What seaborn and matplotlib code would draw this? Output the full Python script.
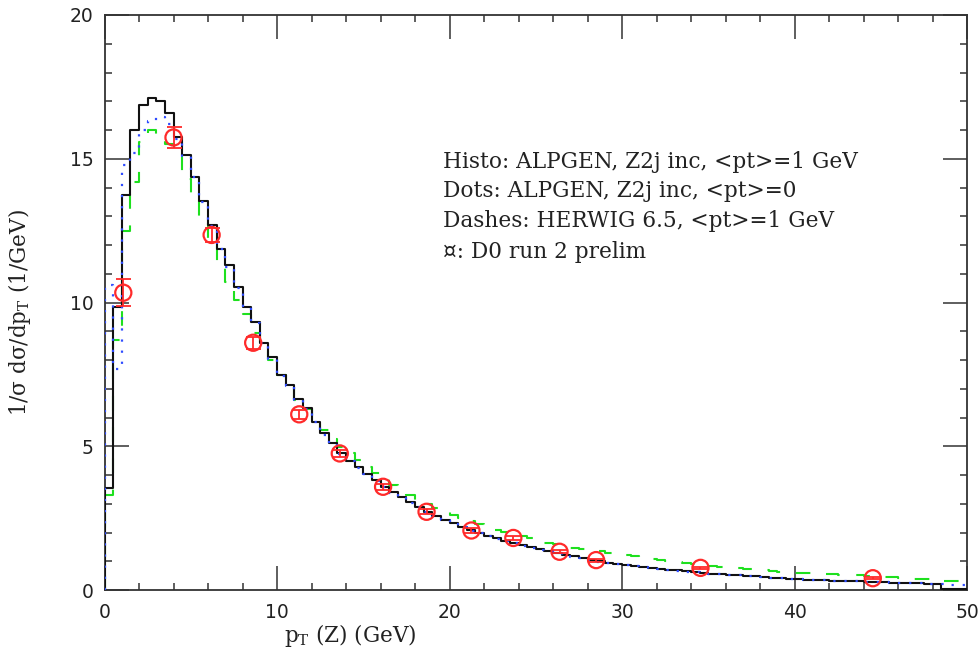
import numpy as np
import pandas as pd
import matplotlib
matplotlib.use("Agg")
import matplotlib.pyplot as plt
import seaborn as sns
from matplotlib.ticker import MultipleLocator

# ---------------- data ----------------
bin_width = 0.5  # GeV, histogram bins from 0 to 50

# Histo: ALPGEN, Z2j inc, <pt>=1 GeV
histo_alpgen_pt1 = [
    3.55, 9.86, 13.74, 16.00, 16.87, 17.10, 17.02, 16.58, 15.77, 15.13,
    14.38, 13.54, 12.70, 11.85, 11.30, 10.55, 9.86, 9.33, 8.60, 8.09,
    7.48, 7.13, 6.63, 6.32, 5.85, 5.45, 5.10, 4.75, 4.50, 4.28,
    4.05, 3.82, 3.58, 3.40, 3.22, 3.05, 2.88, 2.72, 2.58, 2.45,
    2.32, 2.19, 2.07, 1.98, 1.89, 1.80, 1.71, 1.62, 1.55, 1.48,
    1.41, 1.35, 1.29, 1.23, 1.17, 1.11, 1.05, 1.00, 0.95, 0.90,
    0.86, 0.83, 0.80, 0.77, 0.74, 0.71, 0.68, 0.65, 0.62, 0.60,
    0.57, 0.55, 0.53, 0.51, 0.49, 0.47, 0.45, 0.43, 0.41, 0.39,
    0.37, 0.36, 0.35, 0.34, 0.33, 0.32, 0.31, 0.30, 0.29, 0.28,
    0.27, 0.26, 0.25, 0.24, 0.23, 0.22, 0.21, 0.05, 0.04, 0.03,
]

# Dots: ALPGEN, Z2j inc, <pt>=0
dots_alpgen_pt0 = [
    10.60, 7.70, 14.80, 15.20, 16.00, 16.30, 16.45, 16.20, 15.70, 15.10,
    14.35, 13.50, 12.65, 11.85, 11.25, 10.50, 9.85, 9.30, 8.60, 8.05,
    7.45, 7.10, 6.60, 6.30, 5.85, 5.40, 5.08, 4.74, 4.48, 4.26,
    4.03, 3.80, 3.57, 3.38, 3.20, 3.04, 2.87, 2.71, 2.57, 2.44,
    2.31, 2.18, 2.06, 1.97, 1.88, 1.79, 1.70, 1.62, 1.54, 1.47,
    1.40, 1.34, 1.28, 1.22, 1.16, 1.10, 1.05, 0.99, 0.94, 0.90,
    0.86, 0.82, 0.79, 0.76, 0.73, 0.70, 0.67, 0.64, 0.62, 0.59,
    0.57, 0.55, 0.53, 0.51, 0.49, 0.47, 0.45, 0.43, 0.41, 0.39,
    0.37, 0.36, 0.35, 0.34, 0.33, 0.32, 0.31, 0.30, 0.29, 0.28,
    0.27, 0.26, 0.25, 0.24, 0.23, 0.22, 0.21, 0.20, 0.19, 0.18,
]

# Dashes: HERWIG 6.5, <pt>=1 GeV
dashes_herwig = [
    3.30, 8.70, 12.50, 14.20, 15.60, 16.00, 15.80, 15.50, 15.10, 14.30,
    13.70, 12.87, 12.10, 11.25, 10.72, 10.10, 9.60, 8.95, 8.45, 8.00,
    7.48, 7.10, 6.60, 6.30, 5.90, 5.56, 5.25, 4.98, 4.76, 4.52,
    4.29, 4.08, 3.86, 3.65, 3.47, 3.30, 3.14, 2.99, 2.85, 2.72,
    2.62, 2.52, 2.40, 2.28, 2.17, 2.09, 2.02, 1.95, 1.88, 1.80,
    1.72, 1.65, 1.59, 1.53, 1.47, 1.42, 1.38, 1.34, 1.30, 1.27,
    1.22, 1.17, 1.12, 1.08, 1.05, 1.01, 0.98, 0.95, 0.91, 0.88,
    0.84, 0.81, 0.78, 0.76, 0.74, 0.72, 0.69, 0.66, 0.64, 0.62,
    0.60, 0.58, 0.57, 0.56, 0.54, 0.53, 0.52, 0.51, 0.49, 0.47,
    0.45, 0.44, 0.42, 0.40, 0.38, 0.37, 0.35, 0.33, 0.32, 0.30,
]

# D0 run 2 preliminary
d0_pt = [1.09, 4.0, 6.21, 8.62, 11.29, 13.64, 16.15, 18.67, 21.27, 23.7, 26.38, 28.5, 34.55, 44.54]
d0_val = [10.34, 15.74, 12.35, 8.60, 6.11, 4.75, 3.59, 2.72, 2.07, 1.81, 1.33, 1.04, 0.77, 0.41]
d0_err = [0.47, 0.38, 0.25, 0.20, 0.15, 0.13, 0.11, 0.09, 0.08, 0.07, 0.06, 0.05, 0.04, 0.03]

legend_lines = [
    "Histo: ALPGEN, Z2j inc, <pt>=1 GeV",
    "Dots: ALPGEN, Z2j inc, <pt>=0",
    "Dashes: HERWIG 6.5, <pt>=1 GeV",
    "\u00a4: D0 run 2 prelim",
]

# ---------------- figure ----------------
sns.set_theme(style="ticks")
plt.rcParams['font.family'] = ['DejaVu Serif']
plt.rcParams['mathtext.fontset'] = 'dejavuserif'

W, H = 980, 658
fig = plt.figure(figsize=(W / 100, H / 100), dpi=100)
x0, x1, y0, y1 = 104.5, 967, 590, 15
ax = fig.add_axes([x0 / W, (H - y0) / H, (x1 - x0) / W, (y0 - y1) / H])


def step_frame(vals):
    n = len(vals)
    edges = np.arange(n + 1) * bin_width
    x = np.concatenate([[0.0], edges])
    y = np.concatenate([[0.0], np.asarray(vals, float), [0.0]])
    return pd.DataFrame({"pt": x, "val": y})


green_df = step_frame(dashes_herwig)
blue_df = step_frame(dots_alpgen_pt0)
black_df = step_frame(histo_alpgen_pt1)

sns.lineplot(data=green_df, x="pt", y="val", ax=ax, estimator=None, sort=False,
             drawstyle="steps-post", color="#1ee01e", lw=1.5, zorder=2)
ax.lines[-1].set_linestyle((0, (7, 8)))
sns.lineplot(data=black_df, x="pt", y="val", ax=ax, estimator=None, sort=False,
             drawstyle="steps-post", color="#111111", lw=1.5, zorder=3)
sns.lineplot(data=blue_df, x="pt", y="val", ax=ax, estimator=None, sort=False,
             drawstyle="steps-post", color="#2f4cff", lw=1.6, zorder=4)
ax.lines[-1].set_linestyle((0, (1, 4)))

red = "#ff2a2a"
ax.errorbar(d0_pt, d0_val, yerr=d0_err, fmt="none", ecolor=red, elinewidth=1.3,
            capsize=5.4, capthick=1.3, zorder=5)
sns.scatterplot(x=d0_pt, y=d0_val, ax=ax, marker="o", s=135, facecolor="none",
                edgecolor=red, linewidth=1.6, zorder=6)

ax.set_xlim(0, 50)
ax.set_ylim(0, 20)
ax.xaxis.set_major_locator(MultipleLocator(10))
ax.xaxis.set_minor_locator(MultipleLocator(2))
ax.yaxis.set_major_locator(MultipleLocator(5))
ax.yaxis.set_minor_locator(MultipleLocator(1))
ax.tick_params(which="both", direction="in", top=True, right=True, color="#333333")
ax.tick_params(which="major", length=17, width=1.1)
ax.tick_params(which="minor", length=5, width=1.1)
ax.tick_params(axis="x", which="major", pad=9)
ax.tick_params(axis="y", which="major", pad=8)
for lab in ax.get_xticklabels() + ax.get_yticklabels():
    lab.set_fontfamily("DejaVu Sans")
    lab.set_fontsize(13.5)
    lab.set_color("#222222")
for sp in ax.spines.values():
    sp.set_linewidth(1.3)
    sp.set_color("#333333")

ax.set_xlabel(r"p$_\mathrm{T}$ (Z) (GeV)", fontsize=15.5, color="#222222")
ax.xaxis.set_label_coords(0.285, -0.055)
ax.set_ylabel("1/\u03c3 d\u03c3/dp$_\\mathrm{T}$ (1/GeV)", fontsize=15.5, color="#222222")
ax.yaxis.set_label_coords(-0.083, 0.482)

legend_y = [14.67, 13.68, 12.62, 11.54]
for txt, yy in zip(legend_lines, legend_y):
    ax.text(19.61, yy, txt, fontsize=15.6, color="#222222", va="baseline", ha="left",
            family=["DejaVu Serif", "DejaVu Sans"])

fig.savefig("out.png", dpi=100)
